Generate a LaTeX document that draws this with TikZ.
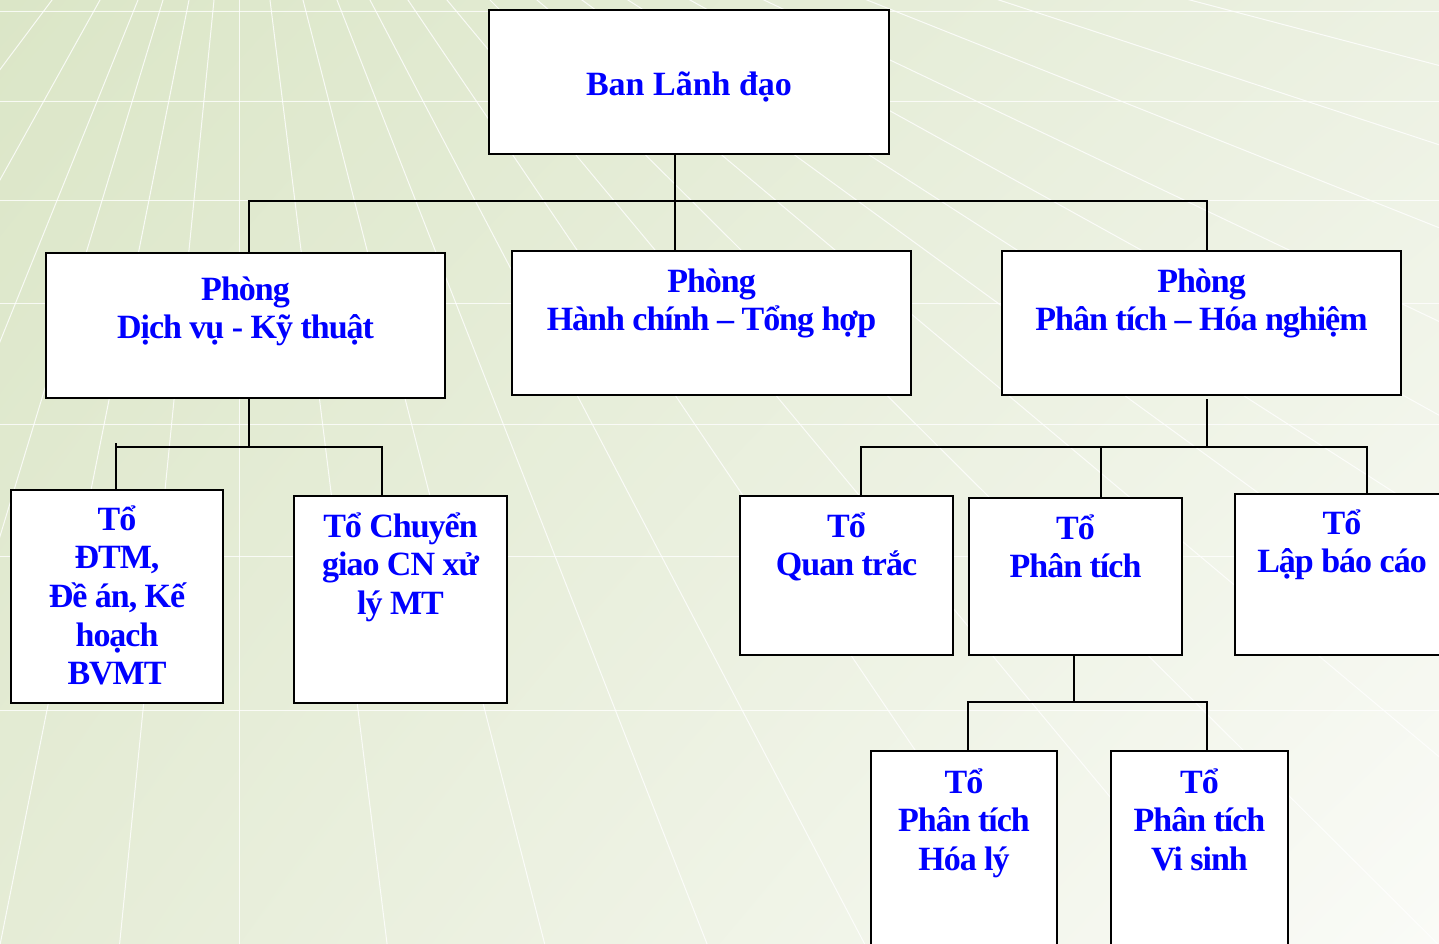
\documentclass[tikz,border=0pt]{standalone}
\usepackage{fontspec}
\setmainfont{Liberation Serif}
\newfontfamily\tightfont[LetterSpace=-3]{Liberation Serif}
\usetikzlibrary{shadings}
\definecolor{bgUL}{RGB}{219,230,199}
\definecolor{bgUR}{RGB}{236,241,226}
\definecolor{bgLL}{RGB}{229,236,214}
\definecolor{bgLR}{RGB}{250,251,247}
\definecolor{txtblue}{RGB}{0,0,255}
\newcommand\obox[4]{\parbox[t][#2pt][t]{#1pt}{\centering\vspace*{\dimexpr #3pt - 32pt\relax}\rule{0pt}{32pt}#4\par}}
\tikzset{
  orgbox/.style={draw=black, line width=2pt, fill=white, inner sep=0pt, anchor=north west,
    text=txtblue, font=\tightfont\fontsize{34}{38.7}\selectfont\bfseries},
  topbox/.style={orgbox, font=\rmfamily\fontsize{34}{38.7}\selectfont\bfseries},
  conn/.style={draw=black, line width=2pt},
  gridline/.style={draw=white, line width=1pt, opacity=0.8}
}
\begin{document}
\begin{tikzpicture}[x=1pt,y=-1pt]
\useasboundingbox (0,0) rectangle (1439,943);
\clip (0,0) rectangle (1439,943);
% background
\shade[upper left=bgUL, upper right=bgUR, lower left=bgLL, lower right=bgLR] (0,0) rectangle (1439,943);
\foreach \xx in {52,100,138,163,189,214,239,270,303,337,370,408,447,490,537,582,628,690,764,867,999,1190}
  \draw[gridline] (239,-250) -- ({239+(\xx-239)*6},1250);
\foreach \yy in {11,101,200,303,424,556,710}
  \draw[gridline] (0,\yy) -- (1439,\yy);

% boxes
\node[topbox] (lead) at (488,9)   {\obox{400}{144}{85}{Ban Lãnh đạo}};
\node[orgbox] (dv)   at (45,252)  {\obox{399}{145}{47}{Phòng\\Dịch vụ - Kỹ thuật}};
\node[orgbox] (hc)   at (511,250) {\obox{399}{144}{41}{Phòng\\Hành chính – Tổng hợp}};
\node[orgbox] (pt)   at (1001,250){\obox{399}{144}{41}{Phòng\\Phân tích – Hóa nghiệm}};
\node[orgbox] (dtm)  at (10,489)  {\obox{212}{213}{40}{Tổ\\ĐTM,\\Đề án, Kế\\hoạch\\BVMT}};
\node[orgbox] (cg)   at (293,495) {\obox{213}{207}{41}{Tổ Chuyển\\giao CN xử\\lý MT}};
\node[orgbox] (qt)   at (739,495) {\obox{213}{159}{41}{Tổ\\Quan trắc}};
\node[orgbox] (ptc)  at (968,497) {\obox{213}{157}{41}{Tổ\\Phân tích}};
\node[orgbox] (lbc)  at (1234,493){\obox{214}{161}{40}{Tổ\\Lập báo cáo}};
\node[orgbox] (hl)   at (870,750) {\obox{186}{210}{42}{Tổ\\Phân tích\\Hóa lý}};
\node[orgbox] (vs)   at (1110,750){\obox{177}{210}{42}{Tổ\\Phân tích\\Vi sinh}};

% bus coordinates
\coordinate (b1) at (675,201);
\coordinate (b1L) at (249,201);
\coordinate (b1R) at (1207,201);
\coordinate (b2) at (249,447);
\coordinate (b2L) at (116,447);
\coordinate (b2Lt) at (116,443);
\coordinate (b2R) at (382,447);
\coordinate (b3t) at (1207,399);
\coordinate (b3) at (1207,447);
\coordinate (b3L) at (861,447);
\coordinate (b3M) at (1101,447);
\coordinate (b3R) at (1367,447);
\coordinate (b4) at (1074,702);
\coordinate (b4L) at (968,702);
\coordinate (b4R) at (1207,702);

% connectors
\draw[conn] (lead.south -| b1) -- (b1);
\draw[conn] (dv.north -| b1L) -- (b1L) -- (b1R) -- (pt.north -| b1R);
\draw[conn] (b1) -- (hc.north -| b1);

\draw[conn] (dv.south -| b2) -- (b2);
\draw[conn] (b2Lt) -- (dtm.north -| b2L);
\draw[conn] (b2L) -- (b2R) -- (cg.north -| b2R);

\draw[conn] (b3t) -- (b3);
\draw[conn] (qt.north -| b3L) -- (b3L) -- (b3R) -- (lbc.north -| b3R);
\draw[conn] (b3M) -- (ptc.north -| b3M);

\draw[conn] (ptc.south -| b4) -- (b4);
\draw[conn] (hl.north -| b4L) -- (b4L) -- (b4R) -- (vs.north -| b4R);
\end{tikzpicture}
\end{document}
